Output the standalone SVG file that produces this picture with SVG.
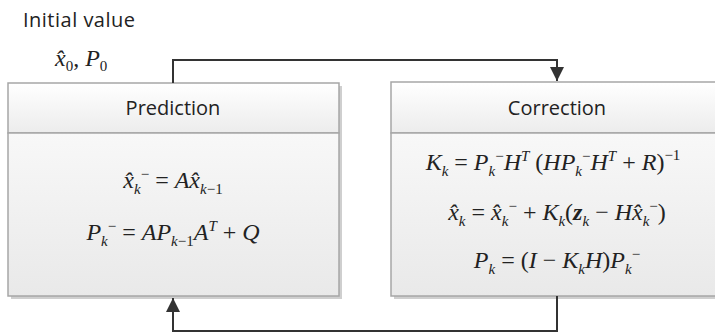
<svg xmlns="http://www.w3.org/2000/svg" width="715" height="332" viewBox="0 0 715 332">
<defs>
<linearGradient id="hd" x1="0" y1="0" x2="0" y2="1"><stop offset="0" stop-color="#ffffff"/><stop offset="1" stop-color="#ececec"/></linearGradient>
<linearGradient id="bd" x1="0" y1="0" x2="0" y2="1"><stop offset="0" stop-color="#f8f8f8"/><stop offset="1" stop-color="#e9e9e9"/></linearGradient>
<marker id="ah" viewBox="0 0 10 10" refX="10" refY="5" markerWidth="14" markerHeight="14" markerUnits="userSpaceOnUse" orient="auto"><path d="M0,0 L10,5 L0,10 z" fill="#333"/></marker>
<style>
.lbl{font-family:"Open Sans","Liberation Sans",sans-serif;font-size:20px;fill:#222}
.m{font-family:"Liberation Serif","Times New Roman",serif;font-style:italic;font-size:24px;fill:#222}
.s{font-size:15px}
.u{font-style:normal}
.b{font-weight:bold}
.box{stroke:#a6a6a6;stroke-width:1.5}
.sh{fill:#cfcfcf}
.con{fill:none;stroke:#333;stroke-width:2}
</style>
</defs>
<text class="lbl" x="23" y="27" textLength="112">Initial value</text>
<text class="m" x="55" y="66">x̂<tspan class="s u" dy="5">0</tspan><tspan class="u" dy="-5">, </tspan>P<tspan class="s u" dy="5">0</tspan></text>
<g id="prediction">
<rect class="sh" x="11" y="86" width="331" height="213"/>
<rect class="box" x="8" y="83" width="331" height="50" fill="url(#hd)"/>
<rect class="box" x="8" y="133" width="331" height="163" fill="url(#bd)"/>
<text class="lbl" x="173" y="115" text-anchor="middle">Prediction</text>
<text class="m" x="173" y="188" text-anchor="middle">x̂<tspan class="s" dy="6">k</tspan><tspan class="s u" dy="-15">−</tspan><tspan class="u" dy="9"> = </tspan>Ax̂<tspan class="s" dy="6">k<tspan class="u">−1</tspan></tspan></text>
<text class="m" x="173" y="240" text-anchor="middle">P<tspan class="s" dy="6">k</tspan><tspan class="s u" dy="-15">−</tspan><tspan class="u" dy="9"> = </tspan>AP<tspan class="s" dy="6">k<tspan class="u">−1</tspan></tspan><tspan dy="-6">A</tspan><tspan class="s" dy="-9">T</tspan><tspan class="u" dy="9"> + </tspan>Q</text>
</g>
<g id="correction">
<rect class="sh" x="394" y="85" width="340" height="214"/>
<rect class="box" x="391" y="82" width="340" height="51" fill="url(#hd)"/>
<rect class="box" x="391" y="133" width="340" height="163" fill="url(#bd)"/>
<text class="lbl" x="557" y="115" text-anchor="middle">Correction</text>
<text class="m" x="553" y="170" text-anchor="middle">K<tspan class="s" dy="6">k</tspan><tspan class="u" dy="-6"> = </tspan>P<tspan class="s" dy="6">k</tspan><tspan class="s u" dy="-15">−</tspan><tspan dy="9">H</tspan><tspan class="s" dy="-9">T</tspan><tspan class="u" dy="9"> (</tspan>HP<tspan class="s" dy="6">k</tspan><tspan class="s u" dy="-15">−</tspan><tspan dy="9">H</tspan><tspan class="s" dy="-9">T</tspan><tspan class="u" dy="9"> + </tspan>R<tspan class="u">)</tspan><tspan class="s u" dy="-10">−1</tspan></text>
<text class="m" x="557" y="220" text-anchor="middle">x̂<tspan class="s" dy="6">k</tspan><tspan class="u" dy="-6"> = </tspan>x̂<tspan class="s" dy="6">k</tspan><tspan class="s u" dy="-15">−</tspan><tspan class="u" dy="9"> + </tspan>K<tspan class="s" dy="6">k</tspan><tspan class="u" dy="-6">(</tspan><tspan class="b">z</tspan><tspan class="s" dy="6">k</tspan><tspan class="u" dy="-6"> − </tspan>Hx̂<tspan class="s" dy="6">k</tspan><tspan class="s u" dy="-15">−</tspan><tspan class="u" dy="9">)</tspan></text>
<text class="m" x="557" y="268" text-anchor="middle">P<tspan class="s" dy="6">k</tspan><tspan class="u" dy="-6"> = (</tspan>I<tspan class="u"> − </tspan>K<tspan class="s" dy="6">k</tspan><tspan dy="-6">H</tspan><tspan class="u">)</tspan>P<tspan class="s" dy="6">k</tspan><tspan class="s u" dy="-15">−</tspan></text>
</g>
<g id="connectors">
<path class="con" d="M173,83 V60 H557 V81" marker-end="url(#ah)"/>
<path class="con" d="M557,296 V331 H173 V298" marker-end="url(#ah)"/>
</g>
</svg>
